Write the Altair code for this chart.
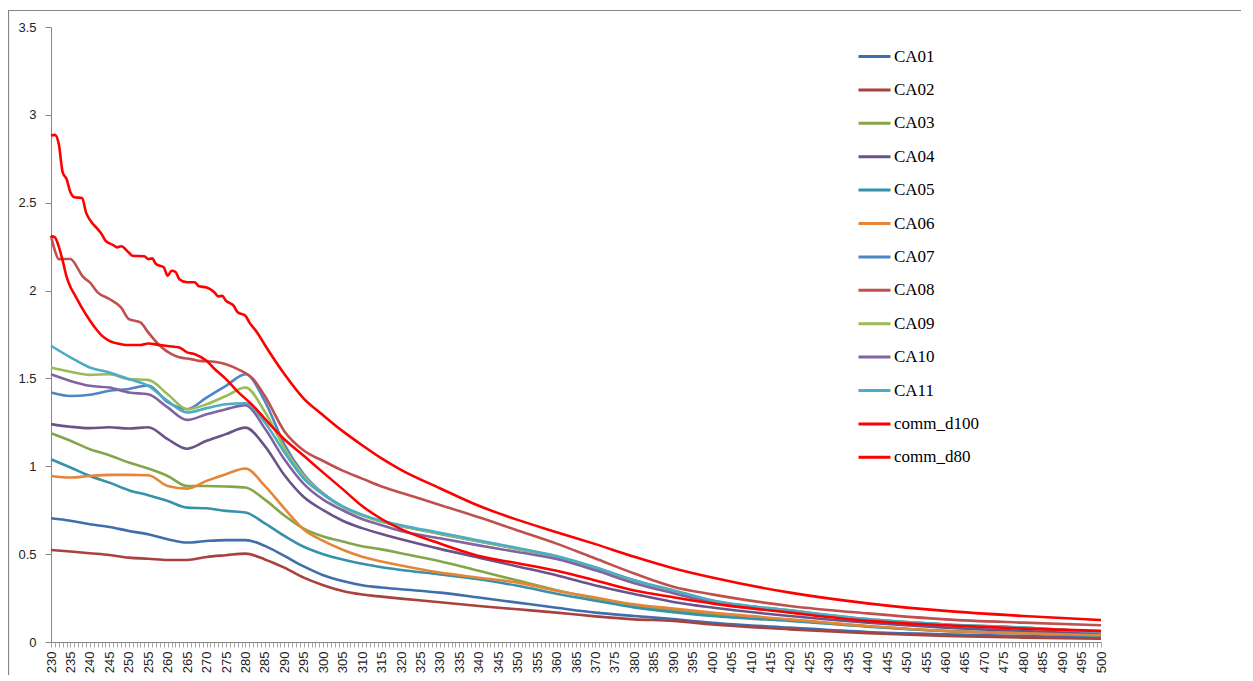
import altair as alt
import pandas as pd

# shared wavelength grid (nm) for the CA samples
wavelengths = [230, 235, 240, 245, 250, 255, 260, 265, 270, 275, 280, 285, 290, 295, 300, 305,
               310, 315, 320, 330, 340, 350, 360, 370, 380, 390, 400, 420, 440, 460, 480, 500]

series_names = ["CA01", "CA02", "CA03", "CA04", "CA05", "CA06", "CA07", "CA08", "CA09",
                "CA10", "CA11", "comm_d100", "comm_d80"]

CA01 = [0.704, 0.69, 0.67, 0.655, 0.632, 0.613, 0.585, 0.566, 0.575, 0.58, 0.58, 0.547, 0.49, 0.43, 0.38, 0.347,
        0.323, 0.31, 0.30, 0.281, 0.253, 0.224, 0.195, 0.167, 0.148, 0.13, 0.11, 0.082, 0.057, 0.044, 0.034, 0.025]
CA02 = [0.524, 0.515, 0.505, 0.495, 0.48, 0.474, 0.467, 0.467, 0.484, 0.494, 0.503, 0.47, 0.423, 0.366, 0.323, 0.29,
        0.27, 0.258, 0.247, 0.226, 0.205, 0.186, 0.167, 0.146, 0.129, 0.12, 0.10, 0.072, 0.05, 0.034, 0.025, 0.019]
CA03 = [1.188, 1.145, 1.097, 1.063, 1.021, 0.987, 0.945, 0.888, 0.888, 0.885, 0.879, 0.81, 0.72, 0.645, 0.60, 0.572,
        0.545, 0.527, 0.505, 0.46, 0.405, 0.35, 0.295, 0.248, 0.21, 0.18, 0.16, 0.125, 0.09, 0.063, 0.05, 0.038]
CA04 = [1.24, 1.225, 1.217, 1.222, 1.215, 1.222, 1.154, 1.10, 1.145, 1.183, 1.22, 1.115, 0.95, 0.825, 0.75, 0.69,
        0.648, 0.614, 0.585, 0.53, 0.48, 0.43, 0.38, 0.322, 0.273, 0.228, 0.196, 0.148, 0.11, 0.082, 0.063, 0.044]
CA05 = [1.04, 0.993, 0.945, 0.907, 0.864, 0.835, 0.803, 0.765, 0.761, 0.746, 0.737, 0.675, 0.604, 0.542, 0.50, 0.47,
        0.445, 0.425, 0.41, 0.385, 0.357, 0.32, 0.275, 0.235, 0.197, 0.17, 0.148, 0.12, 0.087, 0.063, 0.05, 0.034]
CA06 = [0.945, 0.936, 0.945, 0.951, 0.951, 0.949, 0.888, 0.873, 0.917, 0.955, 0.987, 0.888, 0.76, 0.64, 0.575, 0.525,
        0.485, 0.458, 0.435, 0.395, 0.366, 0.338, 0.292, 0.253, 0.214, 0.19, 0.167, 0.129, 0.091, 0.063, 0.05, 0.038]
CA07 = [1.42, 1.40, 1.407, 1.43, 1.44, 1.46, 1.365, 1.325, 1.391, 1.458, 1.524, 1.37, 1.125, 0.955, 0.845, 0.77,
        0.722, 0.686, 0.66, 0.615, 0.572, 0.53, 0.485, 0.42, 0.35, 0.29, 0.234, 0.177, 0.129, 0.10, 0.082, 0.057]
CA09 = [1.562, 1.538, 1.52, 1.524, 1.496, 1.492, 1.41, 1.325, 1.353, 1.40, 1.448, 1.31, 1.105, 0.945, 0.84, 0.768,
        0.72, 0.685, 0.66, 0.617, 0.574, 0.53, 0.486, 0.422, 0.348, 0.29, 0.234, 0.18, 0.13, 0.10, 0.082, 0.057]
CA10 = [1.524, 1.486, 1.458, 1.448, 1.42, 1.41, 1.335, 1.264, 1.296, 1.325, 1.348, 1.215, 1.04, 0.9, 0.81, 0.75,
        0.70, 0.665, 0.632, 0.59, 0.55, 0.512, 0.472, 0.408, 0.335, 0.278, 0.225, 0.17, 0.125, 0.097, 0.08, 0.055]
CA11 = [1.686, 1.62, 1.562, 1.534, 1.496, 1.458, 1.372, 1.306, 1.331, 1.353, 1.359, 1.249, 1.08, 0.93, 0.84, 0.772,
        0.725, 0.69, 0.665, 0.622, 0.578, 0.535, 0.49, 0.426, 0.352, 0.295, 0.237, 0.18, 0.13, 0.10, 0.082, 0.057]

# series read at a finer grid where they are bumpy
CA08_wl = [230, 231, 232, 235, 237, 238, 240, 242, 245, 248, 250, 253, 255, 258, 261, 263, 266, 268, 272, 275,
           278, 282, 285, 290, 295, 300, 305, 310, 315, 320, 330, 340, 350, 360, 370, 380, 390, 400, 420, 440,
           460, 480, 500]
CA08 = [2.312, 2.227, 2.179, 2.18, 2.122, 2.084, 2.047, 1.99, 1.952, 1.904, 1.838, 1.819, 1.762, 1.686, 1.638,
        1.62, 1.61, 1.60, 1.595, 1.581, 1.553, 1.496, 1.40, 1.2, 1.09, 1.03, 0.975, 0.93, 0.885, 0.85, 0.78, 0.71,
        0.635, 0.56, 0.475, 0.39, 0.315, 0.271, 0.205, 0.163, 0.129, 0.11, 0.095]

comm_d100_wl = [230, 231, 232, 233, 234, 235, 236, 238, 239, 240, 242, 243, 244, 246, 247, 248, 250, 251, 254,
                255, 256, 257, 259, 260, 261, 262, 263, 265, 267, 268, 270, 272, 273, 274, 275, 277, 278, 280,
                281, 283, 285, 290, 295, 300, 305, 310, 315, 320, 330, 340, 350, 360, 370, 380, 390, 400, 420,
                440, 460, 480, 500]
comm_d100 = [2.882, 2.886, 2.834, 2.673, 2.635, 2.559, 2.531, 2.527, 2.445, 2.402, 2.35, 2.322, 2.284, 2.259,
             2.246, 2.252, 2.217, 2.198, 2.195, 2.179, 2.183, 2.151, 2.132, 2.084, 2.113, 2.107, 2.065, 2.047,
             2.047, 2.024, 2.018, 1.99, 1.967, 1.97, 1.942, 1.913, 1.876, 1.857, 1.819, 1.762, 1.69, 1.525,
             1.385, 1.29, 1.2, 1.12, 1.045, 0.98, 0.875, 0.775, 0.695, 0.625, 0.557, 0.485, 0.42, 0.367, 0.281,
             0.22, 0.177, 0.148, 0.125]

comm_d80_wl = [230, 231, 232, 233, 234, 235, 236, 237, 238, 240, 242, 243, 245, 248, 250, 253, 255, 258, 261,
               263, 265, 267, 270, 272, 275, 278, 282, 285, 290, 295, 300, 305, 310, 315, 320, 330, 340, 350,
               360, 370, 380, 390, 400, 420, 440, 460, 480, 500]
comm_d80 = [2.31, 2.303, 2.25, 2.17, 2.08, 2.02, 1.98, 1.94, 1.90, 1.83, 1.77, 1.745, 1.714, 1.695, 1.69, 1.69,
            1.699, 1.69, 1.682, 1.676, 1.648, 1.638, 1.60, 1.555, 1.496, 1.425, 1.344, 1.27, 1.154, 1.06, 0.964,
            0.87, 0.774, 0.70, 0.642, 0.56, 0.49, 0.448, 0.405, 0.35, 0.293, 0.255, 0.22, 0.167, 0.12, 0.095,
            0.076, 0.063]

colors = ["#3F6EAC", "#A8423F", "#84A64B", "#6A5389", "#3592AA", "#E58538",
          "#4F85C4", "#C0504D", "#9BBB59", "#8064A2", "#4BACC6", "#FF0000", "#FF0000"]

y_ticks = [0, 0.5, 1, 1.5, 2, 2.5, 3, 3.5]
x_ticks = list(range(230, 501))

series_data = [
    (wavelengths, CA01), (wavelengths, CA02), (wavelengths, CA03), (wavelengths, CA04),
    (wavelengths, CA05), (wavelengths, CA06), (wavelengths, CA07), (CA08_wl, CA08),
    (wavelengths, CA09), (wavelengths, CA10), (wavelengths, CA11),
    (comm_d100_wl, comm_d100), (comm_d80_wl, comm_d80),
]
rows = []
for i, (name, (wls, vals)) in enumerate(zip(series_names, series_data)):
    for w, v in zip(wls, vals):
        rows.append({"wl": w, "series": name, "value": v, "idx": i})
df = pd.DataFrame(rows)

lines = alt.Chart(df).mark_line(strokeWidth=2.6, interpolate="monotone").encode(
    x=alt.X("wl:Q",
            scale=alt.Scale(domain=[230, 500], nice=False, zero=False),
            axis=alt.Axis(values=x_ticks, format="d",
                          labelExpr="datum.value % 5 == 0 ? datum.label : ''",
                          labelAngle=270, labelAlign="right", labelBaseline="middle",
                          labelOverlap=False, labelPadding=4, tickSize=5, grid=False, title=None,
                          domainColor="#868686", tickColor="#a6a6a6",
                          labelFont="Liberation Sans", labelFontSize=13, labelColor="#222222")),
    y=alt.Y("value:Q",
            scale=alt.Scale(domain=[0, 3.5], nice=False),
            axis=alt.Axis(values=y_ticks, format="~g", tickSize=6, labelPadding=9, grid=False,
                          title=None, domainColor="#868686", tickColor="#868686",
                          labelFont="Liberation Sans", labelFontSize=13, labelColor="#222222")),
    color=alt.Color("series:N",
                    scale=alt.Scale(domain=series_names, range=colors),
                    legend=alt.Legend(orient="none", legendX=806, legendY=12, title=None,
                                      symbolType="stroke", symbolSize=1024, symbolStrokeWidth=3,
                                      labelFont="Times New Roman", labelFontSize=17,
                                      labelColor="black", labelOffset=2, rowPadding=7.4,
                                      padding=0)),
    detail="idx:O",
)

border = alt.Chart(pd.DataFrame({"a": [0]})).mark_rect(
    fill="transparent", stroke="#868686", strokeWidth=1.2
).encode(
    x=alt.value(-42.5), x2=alt.value(1500), y=alt.value(-16.5), y2=alt.value(900)
)

chart = alt.layer(border, lines).properties(
    width=1050, height=615,
    autosize=alt.AutoSizeParams(type="none"),
    padding={"left": 43, "top": 19, "right": 140, "bottom": 33},
    background="white",
).configure_view(stroke=None)

chart.save("out.html", embed_options={"renderer": "svg", "actions": False})
